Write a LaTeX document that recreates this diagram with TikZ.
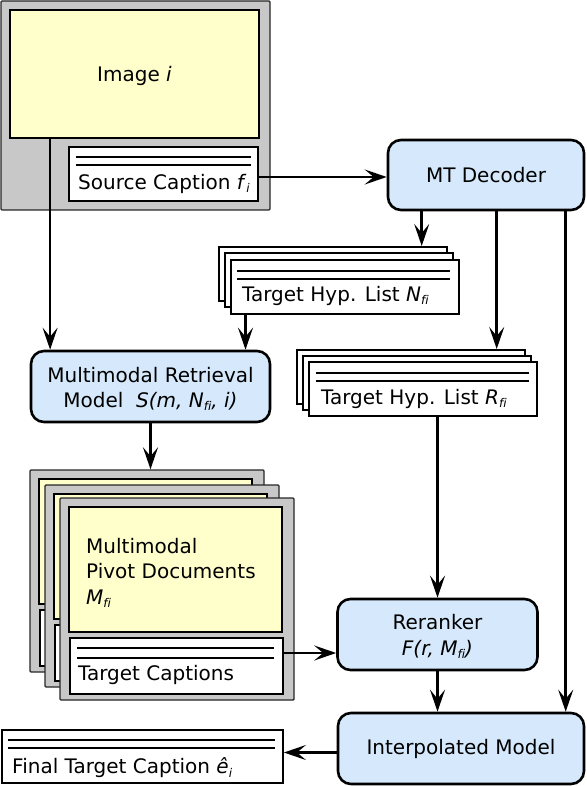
\documentclass[tikz,border=0pt]{standalone}
\usepackage{fontspec}
\setmainfont{DejaVu Sans}
\usetikzlibrary{arrows.meta}
\definecolor{grayf}{RGB}{200,200,200}
\definecolor{yel}{RGB}{255,255,204}
\definecolor{blu}{RGB}{214,233,252}
\newcommand{\sbx}[1]{\raisebox{-0.3ex}{\fontsize{12}{12}\selectfont\itshape #1}}
\begin{document}
\begin{tikzpicture}[x=1pt,y=-1pt,font=\fontsize{20}{25.5}\selectfont,
  graybox/.style={draw=black!85,fill=grayf,line width=1.4pt,inner sep=0pt,rounded corners=1pt},
  yelbox/.style={draw,fill=yel,line width=1.8pt,inner sep=0pt},
  capbox/.style={draw,fill=white,line width=1.8pt,inner sep=0pt},
  stackbox/.style={draw,fill=white,line width=2pt,inner sep=0pt,minimum width=228pt,minimum height=54pt},
  proc/.style={draw,fill=blu,line width=2.6pt,rounded corners=13pt,inner sep=0pt,align=center},
  conn/.style={line width=2.6pt,-{Stealth[length=22pt,width=15pt,inset=9pt]}},
  rul/.style={line width=1.5pt},
  lbl/.style={anchor=west,inner sep=0pt}]
\useasboundingbox (0,0) rectangle (586,786);

% Top-left image block
\node[graybox,minimum width=269pt,minimum height=209pt] (imgbg) at (135.5,105.5) {};
\node[yelbox,minimum width=249pt,minimum height=128pt] (img) at (134.5,74) {};
\node[inner sep=0pt] (imgt) at (img.center) [yshift=-2pt] {Image \textit{i}};
\node[capbox,minimum width=189pt,minimum height=54pt] (src) at (163.5,174) {};
\draw[rul] (76,157) -- (251,157) (76,165) -- (251,165);
\node[lbl] (srct) at (78,184) {Source Caption \textit{f}\sbx{i}};

% MT Decoder
\node[proc,minimum width=196pt,minimum height=70pt] (mt) at (486,175) {MT Decoder};

% Target Hyp. List N
\node[stackbox] (hnb) at (332.5,274) {};
\node[stackbox] (hnm) at (338.5,280) {};
\node[stackbox] (hnf) at (344.5,287) {};
\draw[rul] (237,271) -- (450,271) (237,279) -- (450,279);
\node[lbl] (hnt) at (242,296) {Target Hyp. List \textit{N}\sbx{f\kern0pt i}};

% Target Hyp. List R
\node[stackbox] (hrb) at (411,377) {};
\node[stackbox] (hrm) at (417,383) {};
\node[stackbox] (hrf) at (423,389) {};
\draw[rul] (316,373) -- (529,373) (316,381) -- (529,381);
\node[lbl] (hrt) at (321,399) {Target Hyp. List \textit{R}\sbx{f\kern0pt i}};

% Multimodal Retrieval Model
\node[proc,minimum width=239pt,minimum height=71pt] (mmr) at (150.5,386.5) {};
\node[align=center,inner sep=0pt] (mmrt) at (150.5,389)
  {Multimodal Retrieval\\Model\ \ \textit{S(m, N}\sbx{f\kern0pt i}\textit{, i)}};

% Pivot documents stack
\foreach \n/\gx/\gy in {1/30/470,2/45/485,3/60/498}{
  \node[graybox,minimum width=234pt,minimum height=202pt] (pg\n) at (\gx+117,\gy+101) {};
  \node[yelbox,minimum width=213pt,minimum height=125pt] (py\n) at (\gx+115.5,\gy+71.5) {};
  \node[capbox,minimum width=213pt,minimum height=56pt] (pc\n) at (\gx+116.5,\gy+168) {};
}
\draw[rul] (77,648) -- (274,648) (77,658) -- (274,658);
\node[anchor=north west,align=left,inner sep=0pt] (pivt) at (86,538)
  {Multimodal\\Pivot Documents\\\textit{M}\sbx{f\kern0pt i}};
\node[lbl] (tct) at (78,675) {Target Captions};

% Reranker
\node[proc,minimum width=200pt,minimum height=71pt] (rr) at (437.5,634.5) {};
\node[align=center,inner sep=0pt] (rrt) at (437.5,636.5)
  {Reranker\\\textit{F(r, M}\sbx{f\kern0pt i}\textit{)}};

% Interpolated Model
\node[proc,minimum width=246pt,minimum height=71pt] (ip) at (461,748.5) {Interpolated Model};

% Final Target Caption
\node[capbox,minimum width=281pt,minimum height=53pt] (fin) at (142.5,756.5) {};
\draw[rul] (8,740) -- (275,740) (8,748) -- (275,748);
\node[lbl] (fint) at (12,768) {Final Target Caption \textit{ê}\sbx{i}};

% Connectors
\draw[conn] ([xshift=41pt]img.south west) -- ([xshift=41pt]img.south west |- mmr.north);
\draw[conn] ([yshift=-3pt]src.east) -- ([yshift=-3pt]src.east -| mt.west);
\draw[conn] ([xshift=35pt]mt.south west) -- ([xshift=35pt]mt.south west |- hnb.north);
\draw[conn] ([xshift=110pt]mt.south west) -- ([xshift=110pt]mt.south west |- hrb.north);
\draw[conn] ([xshift=179pt]mt.south west) -- ([xshift=179pt]mt.south west |- ip.north);
\draw[conn] ([xshift=16pt]hnf.south west) -- ([xshift=16pt]hnf.south west |- mmr.north);
\draw[conn] (mmr.south) -- (mmr.south |- pg1.north);
\draw[conn] (rr.north |- hrf.south) -- (rr.north);
\draw[conn] ([yshift=13pt]pc3.east) -- ([yshift=13pt]pc3.east -| rr.west);
\draw[conn] (rr.south) -- (rr.south |- ip.north);
\draw[conn] ([yshift=-4pt]ip.west) -- ([yshift=-4pt]ip.west -| fin.east);
\end{tikzpicture}
\end{document}
